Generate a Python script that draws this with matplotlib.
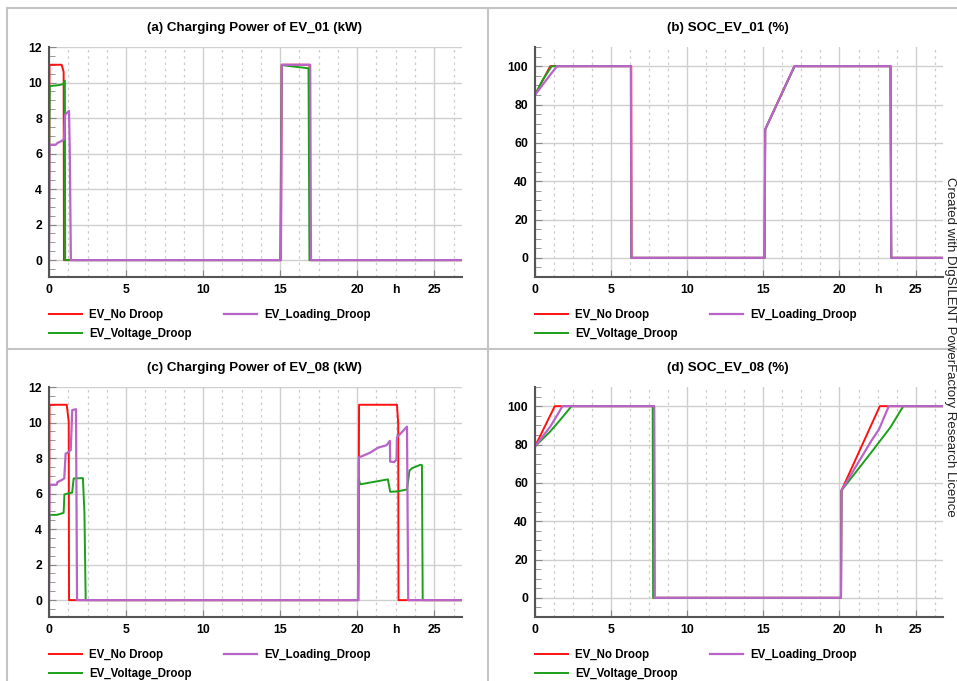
import matplotlib
matplotlib.use("Agg")
import matplotlib.pyplot as plt
from matplotlib.lines import Line2D
from matplotlib.ticker import MultipleLocator

plt.rcParams['font.family'] = ['Liberation Sans', 'DejaVu Sans']

# ---- data (time in h) ----
# (a) charging power EV_01 (kW)
a_red_t = [0, 0.03, 0.82, 0.95, 0.97, 15.05, 15.1, 16.9, 16.95, 26.8]
a_red_v = [0, 11.0, 11.0, 10.6, 0, 0, 11.0, 11.0, 0, 0]
a_green_t = [0, 0.02, 0.05, 0.6, 0.9, 1.03, 1.05, 15.0, 15.1, 16.84, 16.9, 26.8]
a_green_v = [0, 7.4, 9.8, 9.85, 9.9, 10.1, 0, 0, 10.98, 10.8, 0, 0]
a_purple_t = [0, 0.03, 0.45, 0.55, 0.8, 0.97, 1.05, 1.3, 1.35, 1.42, 15.05, 15.1, 16.95, 17.0, 26.8]
a_purple_v = [0, 6.5, 6.5, 6.6, 6.7, 6.8, 8.2, 8.4, 6.0, 0, 0, 11.0, 11.0, 0, 0]

# (b) SOC EV_01 (%)
b_red_t = [0, 1.0, 6.32, 6.34, 15.08, 15.12, 17.04, 23.35, 23.4, 26.8]
b_red_v = [85, 100, 100, 0, 0, 67, 100, 100, 0, 0]
b_green_t = [0, 0.5, 1.1, 6.3, 6.32, 15.08, 15.12, 17.06, 23.35, 23.4, 26.8]
b_green_v = [85, 92.8, 100, 100, 0, 0, 67, 100, 100, 0, 0]
b_purple_t = [0, 1.0, 1.45, 6.3, 6.33, 15.08, 15.12, 17.04, 23.35, 23.4, 26.8]
b_purple_v = [85, 95.5, 100, 100, 0, 0, 67, 100, 100, 0, 0]

# (c) charging power EV_08 (kW)
c_red_t = [0, 0.03, 1.15, 1.28, 1.3, 20.08, 20.12, 22.58, 22.66, 22.68, 26.8]
c_red_v = [0, 11.0, 11.0, 10.05, 0, 0, 11.0, 11.0, 9.95, 0, 0]
c_purple_t = [0, 0.03, 0.5, 0.55, 0.8, 0.99, 1.08, 1.2, 1.41, 1.51, 1.75, 1.82,
              20.05, 20.1, 20.3, 20.83, 21.37, 21.9, 22.12, 22.14, 22.38, 22.55,
              22.58, 23.23, 23.31, 26.8]
c_purple_v = [0, 6.5, 6.5, 6.65, 6.75, 6.85, 8.25, 8.3, 8.45, 10.7, 10.75, 0,
              0, 8.04, 8.1, 8.3, 8.59, 8.72, 8.97, 7.8, 7.77, 7.9,
              9.16, 9.77, 0, 0]
c_green_t = [0, 0.03, 0.5, 0.71, 0.95, 1.0, 1.2, 1.5, 1.6, 2.2, 2.3, 2.38,
             20.05, 20.1, 20.2, 21.99, 22.14, 22.6, 23.23, 23.39, 23.56, 24.1,
             24.2, 24.25, 26.8]
c_green_v = [0, 4.8, 4.8, 4.85, 4.92, 5.95, 6.0, 6.05, 6.85, 6.87, 4.9, 0,
             0, 6.8, 6.52, 6.8, 6.1, 6.12, 6.23, 7.29, 7.43, 7.62,
             7.6, 0, 0]

# (d) SOC EV_08 (%)
d_red_t = [0, 1.3, 7.82, 7.85, 20.1, 20.13, 22.65, 26.8]
d_red_v = [79, 100, 100, 0, 0, 56, 100, 100]
d_green_t = [0, 1.0, 1.6, 2.4, 7.73, 7.76, 20.1, 20.13, 22.1, 23.35, 24.19, 26.8]
d_green_v = [79, 86.8, 92.3, 100, 100, 0, 0, 56, 76, 89, 100, 100]
d_purple_t = [0, 1.0, 1.45, 1.8, 7.83, 7.86, 20.1, 20.13, 22.1, 22.6, 23.24, 26.8]
d_purple_v = [79, 89.3, 95.2, 100, 100, 0, 0, 56, 82, 88, 100, 100]

titles = ['(a) Charging Power of EV_01 (kW)', '(b) SOC_EV_01 (%)',
          '(c) Charging Power of EV_08 (kW)', '(d) SOC_EV_08 (%)']
labels = ['EV_No Droop', 'EV_Voltage_Droop', 'EV_Loading_Droop']

RED = '#ff1010'
GREEN = '#1aa01a'
PURPLE = '#b864c8'

W, H = 957, 681
fig = plt.figure(figsize=(W / 100, H / 100), dpi=100)


def fx(px):
    return px / W


def fy(py):
    return 1 - py / H


# panel boxes
box = dict(color='#c4c4c4', lw=1.5)
fig.add_artist(Line2D([fx(7.5), fx(7.5)], [fy(8), 0], **box))
fig.add_artist(Line2D([fx(7.5), 1], [fy(8), fy(8)], **box))
fig.add_artist(Line2D([fx(488), fx(488)], [fy(8), 0], **box))
fig.add_artist(Line2D([fx(7.5), 1], [fy(349), fy(349)], **box))

panels = [
    (49, 47, (a_red_t, a_red_v), (a_green_t, a_green_v), (a_purple_t, a_purple_v), 'p'),
    (535, 47, (b_red_t, b_red_v), (b_green_t, b_green_v), (b_purple_t, b_purple_v), 's'),
    (49, 387, (c_red_t, c_red_v), (c_green_t, c_green_v), (c_purple_t, c_purple_v), 'p'),
    (535, 387, (d_red_t, d_red_v), (d_green_t, d_green_v), (d_purple_t, d_purple_v), 's'),
]
widths = [413, 408, 413, 408]

for i, (left, top, red, green, purple, kind) in enumerate(panels):
    w = widths[i]
    ax = fig.add_axes([fx(left), fy(top + 230), fx(w), 230 / H])

    l1, = ax.plot(red[0], red[1], color=RED, lw=1.4)
    l2, = ax.plot(green[0], green[1], color=GREEN, lw=1.4)
    l3, = ax.plot(purple[0], purple[1], color=PURPLE, lw=1.6)

    ax.set_xlim(0, 26.8)
    if kind == 'p':
        ax.set_ylim(-0.95, 12)
        ax.yaxis.set_major_locator(MultipleLocator(2))
        ax.yaxis.set_minor_locator(MultipleLocator(0.5))
    else:
        ax.set_ylim(-10, 110)
        ax.yaxis.set_major_locator(MultipleLocator(20))
        ax.yaxis.set_minor_locator(MultipleLocator(5))
    ax.xaxis.set_major_locator(MultipleLocator(5))
    ax.xaxis.set_minor_locator(MultipleLocator(1.25))

    ax.grid(which='major', color='#cfcfcf', lw=1.0, ls='-')
    ax.grid(which='minor', axis='x', color='#cccccc', lw=0.9, ls=(0, (2, 3)))
    ax.set_axisbelow(True)

    for s in ['top', 'right']:
        ax.spines[s].set_visible(False)
    for s in ['left', 'bottom']:
        ax.spines[s].set_color('#555555')
        ax.spines[s].set_linewidth(1.5)

    ax.tick_params(which='both', direction='in', colors='#888888', labelcolor='black',
                   labelsize=8.8, pad=5)
    ax.tick_params(which='major', length=5)
    ax.tick_params(which='minor', length=4)
    ax.tick_params(axis='x', which='minor', length=0)
    for lab in ax.get_xticklabels() + ax.get_yticklabels():
        lab.set_fontweight('bold')
    ax.text(22.5, -0.03, 'h', transform=ax.get_xaxis_transform(), ha='center', va='top',
            fontsize=8.8, fontweight='bold')

    cx = left + w / 2 + (-1 if kind == 'p' else -11)
    fig.text(fx(cx), fy(top - 19), titles[i], ha='center', va='center',
             fontsize=9.6, fontweight='bold')

    ax.legend([l1, l2, l3], labels, ncol=2, loc='upper left', bbox_to_anchor=(0, -0.14),
              frameon=False, borderpad=0, borderaxespad=0, handlelength=2.9,
              handletextpad=0.6, columnspacing=2.75, labelspacing=0.6,
              prop={'size': 8.3, 'weight': 'bold'})

fig.text(fx(950), fy(347), 'Created with DIgSILENT PowerFactory Research Licence',
         rotation=270, ha='center', va='center', fontsize=9.5, color='#222222')

fig.savefig('out.png', dpi=100)
